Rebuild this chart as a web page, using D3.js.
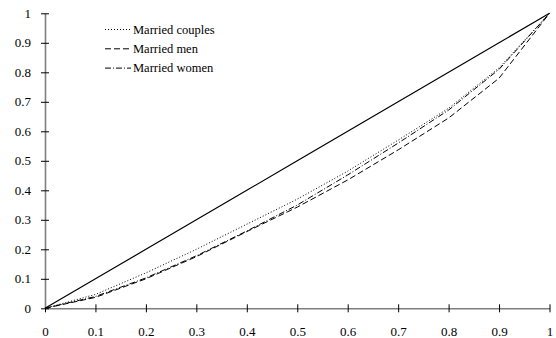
<!DOCTYPE html>
<html>
<head>
<meta charset="utf-8">
<script src="https://cdn.jsdelivr.net/npm/d3@7"></script>
<style>
  html, body { margin: 0; padding: 0; background: #fff; }
  svg { display: block; }
  text { font-family: "Liberation Serif", "Times New Roman", serif; fill: #000; }
</style>
</head>
<body>
<svg id="chart" width="556" height="338"></svg>
<script>
// Cumulative population shares (deciles)
const popShare = [0, 0.1, 0.2, 0.3, 0.4, 0.5, 0.6, 0.7, 0.8, 0.9, 1];

// Cumulative income shares for each group
const equality       = [0, 0.1, 0.2, 0.3, 0.4, 0.5, 0.6, 0.7, 0.8, 0.9, 1];
const marriedCouples = [0, 0.047, 0.12, 0.2, 0.285, 0.37, 0.465, 0.57, 0.678, 0.815, 1];
const marriedMen     = [0, 0.037, 0.10, 0.175, 0.26, 0.343, 0.435, 0.537, 0.645, 0.78, 1];
const marriedWomen   = [0, 0.04, 0.103, 0.178, 0.262, 0.35, 0.452, 0.56, 0.672, 0.81, 1];

const xTicks = [0, 0.1, 0.2, 0.3, 0.4, 0.5, 0.6, 0.7, 0.8, 0.9, 1];
const yTicks = [0, 0.1, 0.2, 0.3, 0.4, 0.5, 0.6, 0.7, 0.8, 0.9, 1];

const seriesNames = ["Married couples", "Married men", "Married women"];
const seriesDash  = ["1,2", "6,3", "6,2,1,2"];
const seriesData  = [marriedCouples, marriedMen, marriedWomen];

const svg = d3.select("#chart");
const x = d3.scaleLinear().domain([0, 1]).range([45, 549.5]);
const y = d3.scaleLinear().domain([0, 1]).range([308.3, 13.3]);

const fmt = d => d === 0 ? "0" : d === 1 ? "1" : d3.format(".1f")(d);

// Axes
const xAxis = svg.append("g")
  .attr("transform", `translate(0,${y(0)})`)
  .call(d3.axisBottom(x).tickValues(xTicks).tickFormat(fmt).tickSizeInner(4).tickSizeOuter(0).tickPadding(14));
xAxis.selectAll(".tick line").attr("y1", -4).attr("y2", 4);

const yAxis = svg.append("g")
  .attr("transform", `translate(${x(0)},0)`)
  .call(d3.axisLeft(y).tickValues(yTicks).tickFormat(fmt).tickSizeInner(4).tickSizeOuter(0).tickPadding(10));
yAxis.selectAll(".tick line").attr("x1", -4).attr("x2", 4);

[xAxis, yAxis].forEach(g => {
  g.select(".domain").attr("stroke", "#7f7f7f").attr("stroke-width", 1.6);
  g.selectAll(".tick line").attr("stroke", "#000").attr("stroke-width", 1);
  g.selectAll(".tick text")
    .attr("font-family", "Liberation Serif, serif")
    .attr("font-size", 13)
    .attr("fill", "#000");
});

const line = d3.line()
  .x((d, i) => x(popShare[i]))
  .y(d => y(d));

// Line of equality
svg.append("path")
  .datum(equality)
  .attr("d", line)
  .attr("fill", "none")
  .attr("stroke", "#000")
  .attr("stroke-width", 1.2);

// Group curves
seriesData.forEach((vals, k) => {
  svg.append("path")
    .datum(vals)
    .attr("d", line)
    .attr("fill", "none")
    .attr("stroke", "#000")
    .attr("stroke-width", 1)
    .attr("stroke-dasharray", seriesDash[k]);
});

// Legend
const legend = svg.append("g");
seriesNames.forEach((name, k) => {
  const ly = 29.5 + k * 19.3;
  legend.append("line")
    .attr("x1", 105).attr("x2", 131)
    .attr("y1", ly).attr("y2", ly)
    .attr("stroke", "#000")
    .attr("stroke-width", 1)
    .attr("stroke-dasharray", seriesDash[k]);
  legend.append("text")
    .attr("x", 133)
    .attr("y", ly + 4)
    .attr("font-size", 12.5)
    .text(name);
});
</script>
</body>
</html>
